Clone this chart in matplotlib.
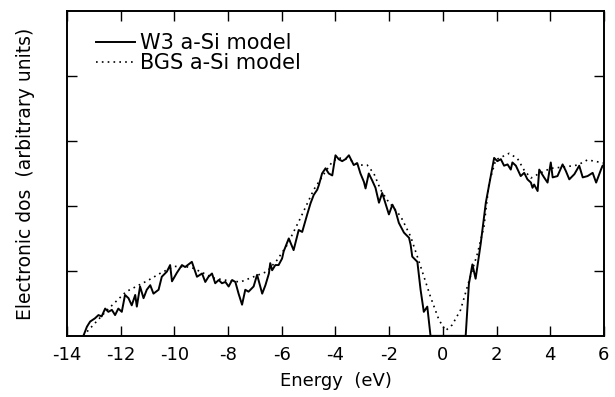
import matplotlib
matplotlib.use("Agg")
import matplotlib.pyplot as plt

# W3 a-Si model (solid)
w3_x = [-13.39, -13.26, -13.14, -12.96, -12.83, -12.71, -12.58, -12.46, -12.33, -12.21,
        -12.09, -11.96, -11.84, -11.71, -11.59, -11.46, -11.40, -11.28, -11.15, -11.03,
        -10.90, -10.78, -10.59, -10.47, -10.28, -10.16, -10.09, -9.91, -9.72, -9.60,
        -9.35, -9.16, -8.97, -8.85, -8.73, -8.60, -8.48, -8.35, -8.23, -8.10,
        -7.98, -7.85, -7.73, -7.61, -7.48, -7.36, -7.24, -7.05, -6.92, -6.73,
        -6.61, -6.48, -6.43, -6.36, -6.24, -6.12, -5.99, -5.93, -5.74, -5.56,
        -5.37, -5.24, -5.06, -4.93, -4.81, -4.68, -4.62, -4.50, -4.37, -4.25,
        -4.12, -4.00, -3.88, -3.75, -3.63, -3.50, -3.32, -3.19, -3.07, -2.94,
        -2.88, -2.76, -2.63, -2.51, -2.38, -2.26, -2.13, -2.01, -1.88, -1.76,
        -1.64, -1.45, -1.26, -1.20, -1.14, -0.95, -0.83, -0.71, -0.58, -0.46,
        0.85, 0.97, 1.10, 1.22, 1.41, 1.60, 1.78, 1.91, 2.03, 2.16,
        2.28, 2.41, 2.53, 2.59, 2.72, 2.90, 3.03, 3.15, 3.28, 3.34,
        3.40, 3.53, 3.59, 3.77, 3.90, 4.02, 4.09, 4.27, 4.46, 4.58,
        4.71, 4.90, 5.08, 5.21, 5.39, 5.58, 5.71, 5.89, 5.95, 6.0]
w3_y = [0.0, 0.14, 0.22, 0.27, 0.32, 0.30, 0.42, 0.37, 0.40, 0.32,
        0.42, 0.37, 0.63, 0.58, 0.47, 0.63, 0.45, 0.76, 0.58, 0.71,
        0.78, 0.65, 0.71, 0.91, 0.99, 1.09, 0.84, 0.97, 1.09, 1.06,
        1.14, 0.91, 0.96, 0.83, 0.91, 0.96, 0.81, 0.86, 0.81, 0.83,
        0.76, 0.86, 0.83, 0.65, 0.48, 0.71, 0.68, 0.76, 0.94, 0.65,
        0.78, 0.96, 1.12, 1.01, 1.09, 1.09, 1.19, 1.30, 1.50, 1.32,
        1.63, 1.60, 1.86, 2.04, 2.17, 2.25, 2.32, 2.50, 2.58, 2.50,
        2.47, 2.78, 2.72, 2.69, 2.72, 2.78, 2.63, 2.66, 2.50, 2.37,
        2.27, 2.50, 2.39, 2.28, 2.05, 2.20, 2.03, 1.87, 2.02, 1.92,
        1.74, 1.59, 1.51, 1.40, 1.22, 1.14, 0.71, 0.37, 0.45, 0.0,
        0.0, 0.80, 1.10, 0.88, 1.42, 2.05, 2.45, 2.74, 2.69, 2.72,
        2.62, 2.64, 2.56, 2.67, 2.62, 2.46, 2.51, 2.41, 2.36, 2.28,
        2.33, 2.23, 2.56, 2.44, 2.36, 2.67, 2.44, 2.46, 2.64, 2.54,
        2.41, 2.49, 2.62, 2.44, 2.46, 2.51, 2.36, 2.56, 2.62, 2.63]

# BGS a-Si model (dotted)
bgs_x = [-13.4, -12.5, -11.8, -11.0, -10.5, -10.0, -9.5, -9.29, -8.54, -8.0,
         -7.54, -7.05, -6.55, -6.17, -5.8, -5.31, -4.81, -4.37, -4.12, -3.9,
         -3.5, -3.13, -2.82, -2.57, -2.32, -2.07, -1.57, -1.2, -0.83, -0.46,
         -0.15, 0.10, 0.35, 0.66, 0.97, 1.29, 1.53, 1.72, 1.97, 2.47,
         2.78, 3.03, 3.28, 3.59, 4.02, 4.52, 5.02, 5.39, 5.76, 6.0]
bgs_y = [0.0, 0.40, 0.68, 0.85, 0.97, 1.07, 1.06, 1.04, 0.89, 0.85,
         0.83, 0.91, 0.99, 1.17, 1.40, 1.81, 2.25, 2.53, 2.68, 2.74,
         2.72, 2.63, 2.63, 2.50, 2.25, 2.09, 1.84, 1.53, 1.07, 0.60,
         0.25, 0.08, 0.17, 0.40, 0.84, 1.27, 1.68, 2.35, 2.71, 2.81,
         2.73, 2.55, 2.43, 2.50, 2.58, 2.60, 2.63, 2.71, 2.68, 2.66]

x_ticks = [-14, -12, -10, -8, -6, -4, -2, 0, 2, 4, 6]
x_tick_labels = ["-14", "-12", "-10", "-8", "-6", "-4", "-2", "0", "2", "4", "6"]
y_ticks = [1, 2, 3, 4]

plt.rcParams['font.family'] = ['DejaVu Sans']
fig = plt.figure(figsize=(6.15, 3.97), dpi=100)
ax = fig.add_axes([0.109, 0.154, 0.873, 0.818])

ax.plot(w3_x, w3_y, color='black', lw=1.4, label='W3 a-Si model')
ax.plot(bgs_x, bgs_y, color='black', lw=1.2, linestyle=(0, (1, 2.5)),
        label='BGS a-Si model')

ax.set_xlim(-14, 6)
ax.set_ylim(0, 5)
ax.set_xticks(x_ticks)
ax.set_xticklabels(x_tick_labels)
ax.set_yticks(y_ticks)
ax.set_yticklabels([])
ax.tick_params(direction='in', length=7, width=1.0, top=True, right=True,
               labelsize=13, pad=7, colors='black')
for s in ax.spines.values():
    s.set_linewidth(1.4)

ax.set_xlabel('Energy  (eV)', fontsize=13, labelpad=6)
ax.set_ylabel('Electronic dos  (arbitrary units)', fontsize=13.5, labelpad=16)

ax.legend(loc='upper left', frameon=False, fontsize=15, handlelength=1.9,
          handletextpad=0.25, labelspacing=0.0, borderaxespad=0.3,
          bbox_to_anchor=(0.026, 0.978))

fig.savefig('out.png', dpi=100)
